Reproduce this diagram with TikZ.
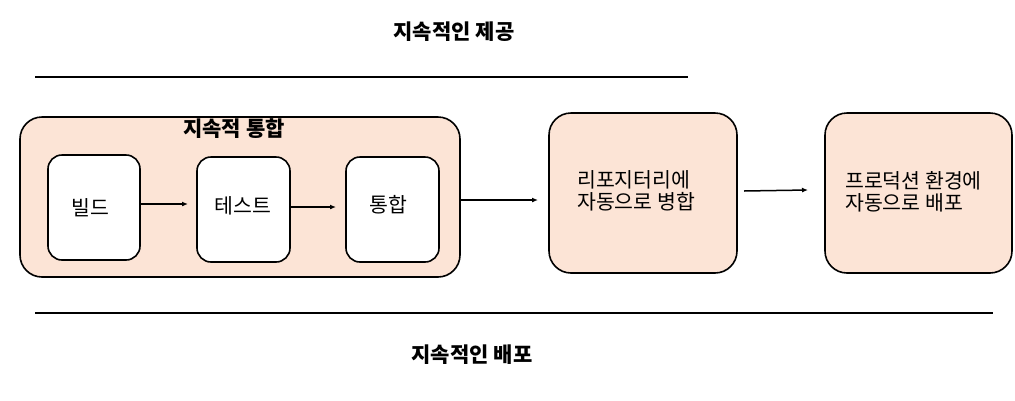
\documentclass[tikz,border=0pt]{standalone}
\usepackage{fontspec}
\setmainfont{Noto Sans CJK KR}
\usetikzlibrary{arrows.meta}
\definecolor{peach}{RGB}{252,228,214}
\begin{document}
\begin{tikzpicture}[x=1pt,y=-1pt,
  bigbox/.style={draw=black,line width=1.6pt,fill=peach,rounded corners=22pt},
  smallbox/.style={draw=black,line width=1.6pt,fill=white,rounded corners=14pt},
  lbl/.style={font=\fontsize{20.5}{22}\selectfont,inner sep=0pt},
  ttl/.style={font=\bfseries\fontsize{21}{22}\selectfont,inner sep=0pt},
  arr/.style={-{Latex[length=6pt,width=5pt]},line width=1.5pt},
  rule/.style={line width=2.8pt}]
\useasboundingbox (0,0) rectangle (1015,400);
% rules
\coordinate (t1) at (35,77); \coordinate (t2) at (688,77);
\coordinate (b1) at (35,313); \coordinate (b2) at (993,313);
\draw[rule] (t1) -- (t2);
\draw[rule] (b1) -- (b2);
\node[ttl] (top) at (454,32) {지속적인 제공};
\node[ttl] (bot) at (472,355) {지속적인 배포};
% outer box
\node[bigbox,minimum width=440pt,minimum height=160pt] (ci) at (240,197) {};
\node[ttl] (cit) at (234,129) {지속적 통합};
\node[smallbox,minimum width=92pt,minimum height=105pt] (build) at (94,207.5) {};
\node[lbl] at (90,208) {빌드};
\node[smallbox,minimum width=93pt,minimum height=105pt] (test) at (243.5,209.5) {};
\node[lbl] at (243,206) {테스트};
\node[smallbox,minimum width=93pt,minimum height=105pt] (integ) at (392.5,209.5) {};
\node[lbl] at (388,205) {통합};
\node[bigbox,minimum width=188pt,minimum height=160pt] (repo) at (643,193) {};
\node[lbl,align=left,anchor=west] (repot) at (577,191) {리포지터리에\\자동으로 병합};
\node[bigbox,minimum width=187pt,minimum height=160pt] (prod) at (918.5,193) {};
\node[lbl,align=left,anchor=west] (prodt) at (845,192) {프로덕션 환경에\\자동으로 배포};
% arrows
\draw[arr] (build.east |- 0,204) -- (188,204);
\draw[arr] (test.east |- 0,207) -- (336,207);
\draw[arr] (ci.east |- 0,200) -- (538,200);
\draw[arr] (744,191) -- (808,190);
\end{tikzpicture}
\end{document}
